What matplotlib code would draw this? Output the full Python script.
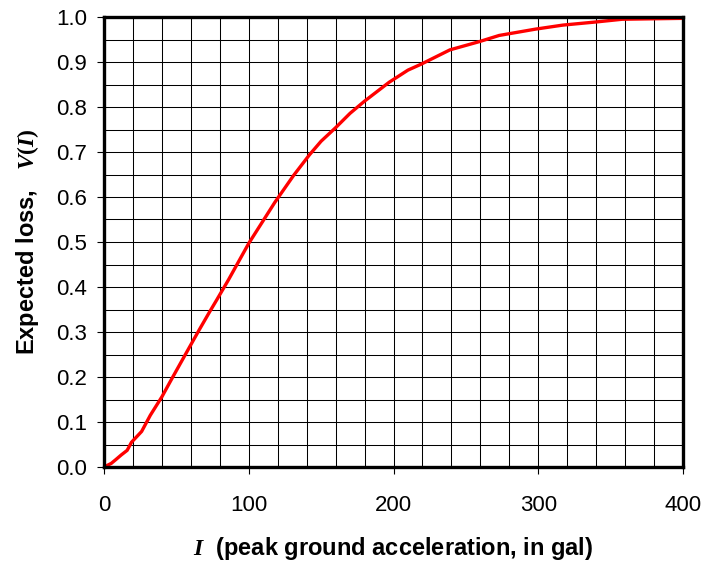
import numpy as np
import matplotlib
matplotlib.use('Agg')
import matplotlib.pyplot as plt
from matplotlib.ticker import MultipleLocator

# Curve (I in gal, V(I) expected loss)
intensity = [0, 5, 8, 12, 16, 19, 26, 32, 40, 47, 59, 66, 73, 78, 86, 100,
             118, 131, 142, 150, 160, 170, 180, 197, 210, 219, 239, 259, 273,
             298, 317, 340, 358, 400]
loss = [0, 0.008, 0.016, 0.027, 0.037, 0.055, 0.079, 0.115, 0.156, 0.197,
        0.266, 0.306, 0.345, 0.372, 0.416, 0.497, 0.588, 0.648, 0.694,
        0.724, 0.754, 0.786, 0.813, 0.855, 0.882, 0.895, 0.927, 0.945,
        0.959, 0.973, 0.982, 0.989, 0.995, 0.997]

plt.rcParams['font.family'] = ['Liberation Sans', 'DejaVu Sans']
plt.rcParams['mathtext.fontset'] = 'custom'
plt.rcParams['mathtext.it'] = 'Liberation Serif:italic:bold'
plt.rcParams['mathtext.rm'] = 'Liberation Serif:bold'

fig = plt.figure(figsize=(7.02, 5.65), dpi=100)
ax = fig.add_axes([104 / 702, 98 / 565, 579 / 702, 450 / 565])

ax.plot(intensity, loss, color='#ff0000', linewidth=2.4, zorder=3)

ax.set_xlim(0, 400)
ax.set_ylim(0, 1.0)
ax.xaxis.set_major_locator(MultipleLocator(100))
ax.xaxis.set_minor_locator(MultipleLocator(20))
ax.yaxis.set_major_locator(MultipleLocator(0.1))
ax.yaxis.set_minor_locator(MultipleLocator(0.05))
ax.yaxis.set_major_formatter(plt.FuncFormatter(lambda v, p: f'{v:.1f}'))

ax.grid(which='both', color='black', linewidth=0.75, zorder=1)
ax.set_axisbelow(True)
ax.tick_params(which='major', direction='out', length=5, width=0.8,
               labelsize=16)
ax.tick_params(axis='y', which='major', pad=7)
ax.tick_params(axis='x', which='major', pad=15)
ax.tick_params(which='minor', length=0)

for s in ax.spines.values():
    s.set_linewidth(2.4)
    s.set_color('black')
    s.set_zorder(4)

ax.set_xlabel(r'$I$  (peak ground acceleration, in gal)', fontsize=17,
              fontweight='bold')
ax.set_ylabel(r'Expected loss,   $V(I)$', fontsize=17, fontweight='bold')
ax.xaxis.set_label_coords(0.5, (467 - 549) / 450)
ax.xaxis.label.set_va('center')
ax.yaxis.set_label_coords((28 - 104) / 579, 0.5)
ax.yaxis.label.set_va('center')

fig.savefig('out.png', dpi=100)
plt.close(fig)
